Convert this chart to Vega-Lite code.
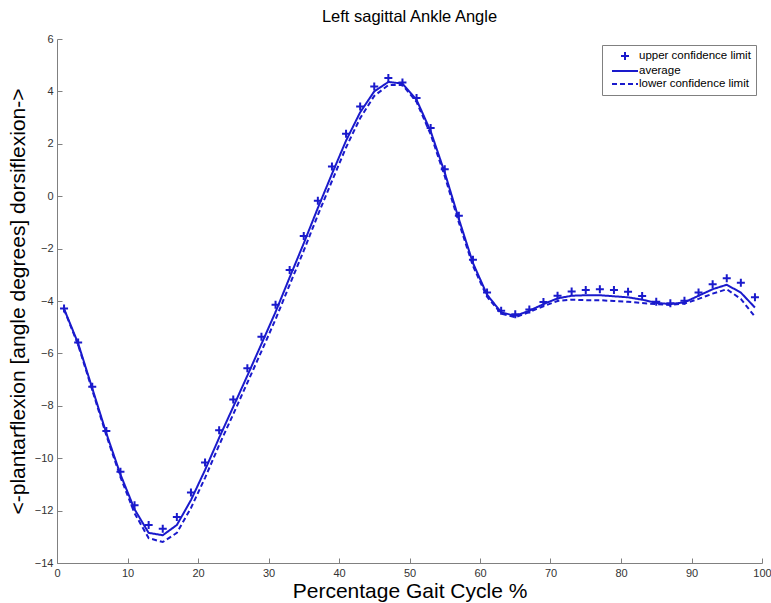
{
  "$schema": "https://vega.github.io/schema/vega-lite/v6.json",
  "autosize": "none",
  "width": 705,
  "height": 524,
  "padding": {"left": 57, "top": 39, "right": 9, "bottom": 40},
  "background": "white",
  "config": {
    "view": {"stroke": null},
    "font": "Liberation Sans",
    "axis": {"grid": false, "domainColor": "#808080", "tickColor": "#808080", "labelColor": "#333333", "labelFont": "Liberation Sans", "labelFontSize": 11, "titleFont": "Liberation Sans", "titleFontWeight": "normal", "titleColor": "#000000"}
  },
  "title": {"text": "Left sagittal Ankle Angle", "fontSize": 16.5, "fontWeight": "normal", "font": "Liberation Sans", "color": "#000000", "anchor": "middle", "offset": 8},
  "data": {"values": [
    {"x":1,"series":"upper confidence limit","v":-4.29},{"x":1,"series":"average","v":-4.30},{"x":1,"series":"lower confidence limit","v":-4.32},
    {"x":3,"series":"upper confidence limit","v":-5.58},{"x":3,"series":"average","v":-5.62},{"x":3,"series":"lower confidence limit","v":-5.68},
    {"x":5,"series":"upper confidence limit","v":-7.27},{"x":5,"series":"average","v":-7.33},{"x":5,"series":"lower confidence limit","v":-7.40},
    {"x":7,"series":"upper confidence limit","v":-8.96},{"x":7,"series":"average","v":-9.05},{"x":7,"series":"lower confidence limit","v":-9.13},
    {"x":9,"series":"upper confidence limit","v":-10.52},{"x":9,"series":"average","v":-10.62},{"x":9,"series":"lower confidence limit","v":-10.72},
    {"x":11,"series":"upper confidence limit","v":-11.80},{"x":11,"series":"average","v":-11.95},{"x":11,"series":"lower confidence limit","v":-12.10},
    {"x":13,"series":"upper confidence limit","v":-12.55},{"x":13,"series":"average","v":-12.85},{"x":13,"series":"lower confidence limit","v":-13.05},
    {"x":15,"series":"upper confidence limit","v":-12.69},{"x":15,"series":"average","v":-12.94},{"x":15,"series":"lower confidence limit","v":-13.20},
    {"x":17,"series":"upper confidence limit","v":-12.24},{"x":17,"series":"average","v":-12.55},{"x":17,"series":"lower confidence limit","v":-12.85},
    {"x":19,"series":"upper confidence limit","v":-11.31},{"x":19,"series":"average","v":-11.60},{"x":19,"series":"lower confidence limit","v":-11.90},
    {"x":21,"series":"upper confidence limit","v":-10.16},{"x":21,"series":"average","v":-10.45},{"x":21,"series":"lower confidence limit","v":-10.75},
    {"x":23,"series":"upper confidence limit","v":-8.93},{"x":23,"series":"average","v":-9.22},{"x":23,"series":"lower confidence limit","v":-9.50},
    {"x":25,"series":"upper confidence limit","v":-7.76},{"x":25,"series":"average","v":-8.04},{"x":25,"series":"lower confidence limit","v":-8.32},
    {"x":27,"series":"upper confidence limit","v":-6.57},{"x":27,"series":"average","v":-6.85},{"x":27,"series":"lower confidence limit","v":-7.12},
    {"x":29,"series":"upper confidence limit","v":-5.36},{"x":29,"series":"average","v":-5.64},{"x":29,"series":"lower confidence limit","v":-5.92},
    {"x":31,"series":"upper confidence limit","v":-4.14},{"x":31,"series":"average","v":-4.42},{"x":31,"series":"lower confidence limit","v":-4.70},
    {"x":33,"series":"upper confidence limit","v":-2.82},{"x":33,"series":"average","v":-3.10},{"x":33,"series":"lower confidence limit","v":-3.38},
    {"x":35,"series":"upper confidence limit","v":-1.52},{"x":35,"series":"average","v":-1.80},{"x":35,"series":"lower confidence limit","v":-2.08},
    {"x":37,"series":"upper confidence limit","v":-0.17},{"x":37,"series":"average","v":-0.45},{"x":37,"series":"lower confidence limit","v":-0.72},
    {"x":39,"series":"upper confidence limit","v":1.13},{"x":39,"series":"average","v":0.85},{"x":39,"series":"lower confidence limit","v":0.58},
    {"x":41,"series":"upper confidence limit","v":2.38},{"x":41,"series":"average","v":2.12},{"x":41,"series":"lower confidence limit","v":1.86},
    {"x":43,"series":"upper confidence limit","v":3.42},{"x":43,"series":"average","v":3.20},{"x":43,"series":"lower confidence limit","v":2.98},
    {"x":45,"series":"upper confidence limit","v":4.19},{"x":45,"series":"average","v":4.00},{"x":45,"series":"lower confidence limit","v":3.83},
    {"x":47,"series":"upper confidence limit","v":4.51},{"x":47,"series":"average","v":4.36},{"x":47,"series":"lower confidence limit","v":4.24},
    {"x":49,"series":"upper confidence limit","v":4.34},{"x":49,"series":"average","v":4.30},{"x":49,"series":"lower confidence limit","v":4.25},
    {"x":51,"series":"upper confidence limit","v":3.75},{"x":51,"series":"average","v":3.68},{"x":51,"series":"lower confidence limit","v":3.60},
    {"x":53,"series":"upper confidence limit","v":2.60},{"x":53,"series":"average","v":2.48},{"x":53,"series":"lower confidence limit","v":2.36},
    {"x":55,"series":"upper confidence limit","v":1.03},{"x":55,"series":"average","v":0.90},{"x":55,"series":"lower confidence limit","v":0.76},
    {"x":57,"series":"upper confidence limit","v":-0.75},{"x":57,"series":"average","v":-0.87},{"x":57,"series":"lower confidence limit","v":-1.00},
    {"x":59,"series":"upper confidence limit","v":-2.43},{"x":59,"series":"average","v":-2.55},{"x":59,"series":"lower confidence limit","v":-2.66},
    {"x":61,"series":"upper confidence limit","v":-3.68},{"x":61,"series":"average","v":-3.76},{"x":61,"series":"lower confidence limit","v":-3.84},
    {"x":63,"series":"upper confidence limit","v":-4.37},{"x":63,"series":"average","v":-4.43},{"x":63,"series":"lower confidence limit","v":-4.48},
    {"x":65,"series":"upper confidence limit","v":-4.51},{"x":65,"series":"average","v":-4.57},{"x":65,"series":"lower confidence limit","v":-4.62},
    {"x":67,"series":"upper confidence limit","v":-4.32},{"x":67,"series":"average","v":-4.37},{"x":67,"series":"lower confidence limit","v":-4.42},
    {"x":69,"series":"upper confidence limit","v":-4.04},{"x":69,"series":"average","v":-4.12},{"x":69,"series":"lower confidence limit","v":-4.20},
    {"x":71,"series":"upper confidence limit","v":-3.80},{"x":71,"series":"average","v":-3.90},{"x":71,"series":"lower confidence limit","v":-4.00},
    {"x":73,"series":"upper confidence limit","v":-3.64},{"x":73,"series":"average","v":-3.80},{"x":73,"series":"lower confidence limit","v":-3.95},
    {"x":75,"series":"upper confidence limit","v":-3.58},{"x":75,"series":"average","v":-3.78},{"x":75,"series":"lower confidence limit","v":-3.97},
    {"x":77,"series":"upper confidence limit","v":-3.55},{"x":77,"series":"average","v":-3.78},{"x":77,"series":"lower confidence limit","v":-3.97},
    {"x":79,"series":"upper confidence limit","v":-3.58},{"x":79,"series":"average","v":-3.82},{"x":79,"series":"lower confidence limit","v":-4.00},
    {"x":81,"series":"upper confidence limit","v":-3.65},{"x":81,"series":"average","v":-3.86},{"x":81,"series":"lower confidence limit","v":-4.03},
    {"x":83,"series":"upper confidence limit","v":-3.81},{"x":83,"series":"average","v":-3.95},{"x":83,"series":"lower confidence limit","v":-4.08},
    {"x":85,"series":"upper confidence limit","v":-4.03},{"x":85,"series":"average","v":-4.07},{"x":85,"series":"lower confidence limit","v":-4.12},
    {"x":87,"series":"upper confidence limit","v":-4.09},{"x":87,"series":"average","v":-4.12},{"x":87,"series":"lower confidence limit","v":-4.15},
    {"x":89,"series":"upper confidence limit","v":-3.99},{"x":89,"series":"average","v":-4.05},{"x":89,"series":"lower confidence limit","v":-4.10},
    {"x":91,"series":"upper confidence limit","v":-3.68},{"x":91,"series":"average","v":-3.80},{"x":91,"series":"lower confidence limit","v":-3.92},
    {"x":93,"series":"upper confidence limit","v":-3.36},{"x":93,"series":"average","v":-3.55},{"x":93,"series":"lower confidence limit","v":-3.72},
    {"x":95,"series":"upper confidence limit","v":-3.13},{"x":95,"series":"average","v":-3.38},{"x":95,"series":"lower confidence limit","v":-3.55},
    {"x":97,"series":"upper confidence limit","v":-3.30},{"x":97,"series":"average","v":-3.68},{"x":97,"series":"lower confidence limit","v":-3.92},
    {"x":99,"series":"upper confidence limit","v":-3.86},{"x":99,"series":"average","v":-4.25},{"x":99,"series":"lower confidence limit","v":-4.60}
  ]},
  "encoding": {
    "x": {"field": "x", "type": "quantitative", "scale": {"domain": [0, 100], "nice": false, "zero": false},
      "axis": {"title": "Percentage Gait Cycle %", "titleFontSize": 21, "titlePadding": 2, "values": [0,10,20,30,40,50,60,70,80,90,100], "tickSize": -5, "labelPadding": 9, "labelFlush": false}},
    "y": {"field": "v", "type": "quantitative", "scale": {"domain": [-14, 6], "nice": false, "zero": false},
      "axis": {"title": "<-plantarflexion [angle degrees] dorsiflexion->", "titleFontSize": 21, "titlePadding": 6, "values": [-14,-12,-10,-8,-6,-4,-2,0,2,4,6], "tickSize": -5, "labelPadding": 9}},
    "color": {"field": "series", "type": "nominal",
      "scale": {"domain": ["upper confidence limit", "average", "lower confidence limit"], "range": ["#1a1acc", "#1a1acc", "#1a1acc"]},
      "legend": {"title": null, "orient": "top-right", "offset": 6, "padding": 5, "rowPadding": 1, "strokeColor": "#808080", "fillColor": "white", "labelFontSize": 11.5, "labelFont": "Liberation Sans", "labelColor": "#000000", "cornerRadius": 0, "labelOffset": 20,
        "symbolSize": 100, "symbolStrokeWidth": 2,
        "encode": {"symbols": {"update": {
          "shape": {"signal": "datum.value === 'upper confidence limit' ? 'M-0.8,0L0.8,0M0,-0.8L0,0.8' : 'M-2.6,0L2.6,0'"},
          "x": {"value": 18},
          "strokeDash": {"signal": "datum.value === 'lower confidence limit' ? [5,3] : [1,0]"},
          "stroke": {"value": "#1a1acc"},
          "fill": {"value": "transparent"},
          "strokeWidth": {"value": 2}
        }}}}
    }
  },
  "layer": [
    {"transform": [{"filter": "datum.series !== 'upper confidence limit'"}],
     "mark": {"type": "line", "strokeWidth": 2},
     "encoding": {"strokeDash": {"condition": {"test": "datum.series === 'lower confidence limit'", "value": [5, 3]}, "value": [1, 0]}}},
    {"transform": [{"filter": "datum.series === 'upper confidence limit'"}],
     "mark": {"type": "point", "shape": "M-1,0L1,0M0,-1L0,1", "size": 64, "strokeWidth": 2, "filled": false, "opacity": 1}}
  ]
}
